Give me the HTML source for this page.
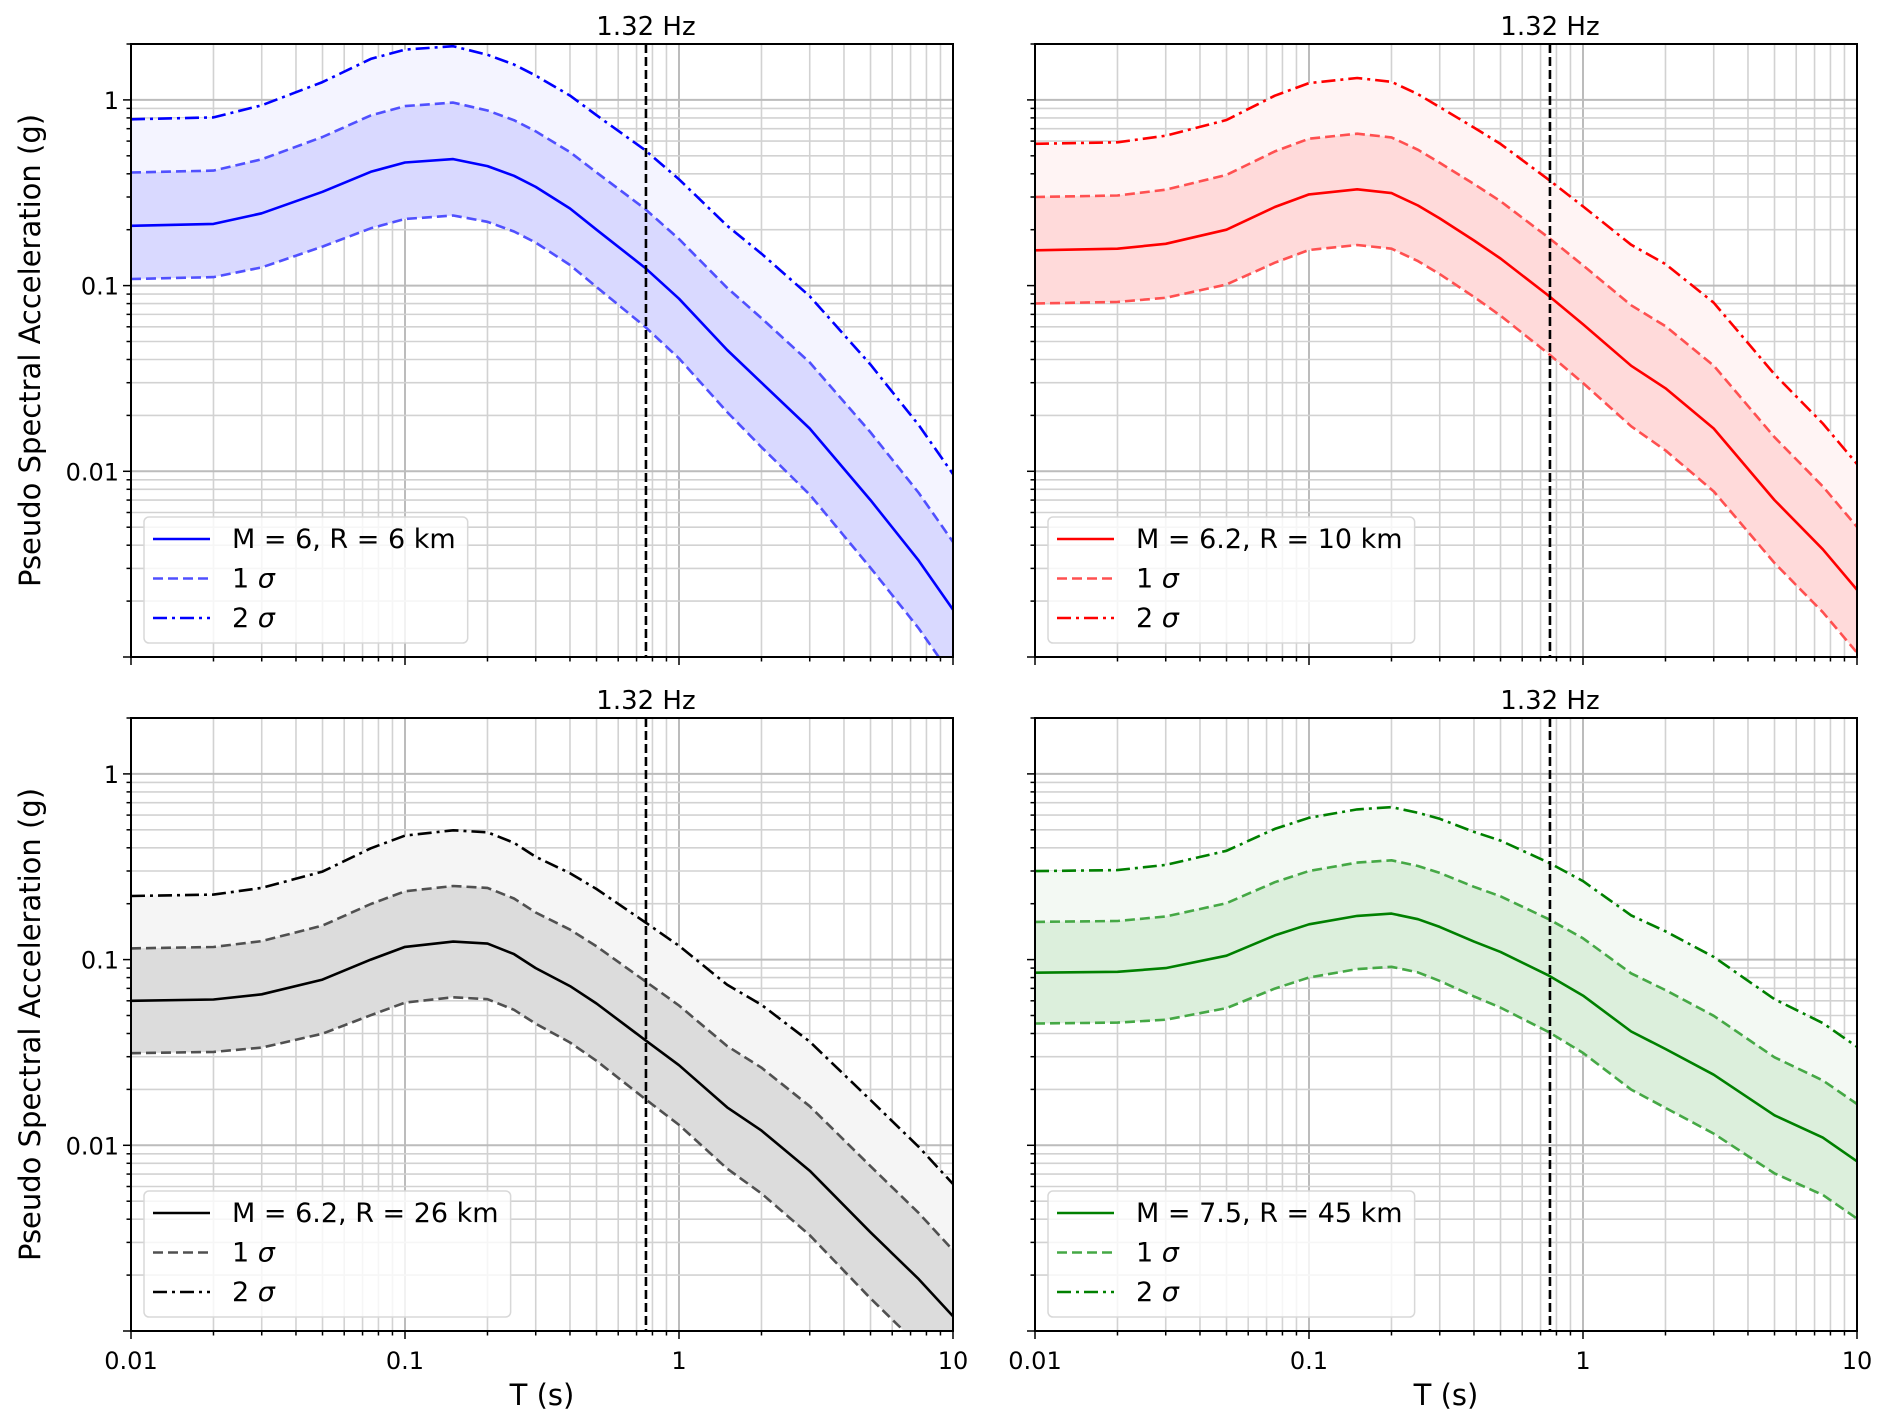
<!DOCTYPE html>
<html><head><meta charset="utf-8">
<style>
html,body{margin:0;padding:0;background:#fff;}
svg{display:block;font-family:"DejaVu Sans","Liberation Sans",sans-serif;}
</style></head>
<body>
<svg id="fig" width="1892" height="1426" viewBox="0 0 1892 1426" xmlns="http://www.w3.org/2000/svg"></svg>
<script>
const periods = [0.01,0.02,0.03,0.05,0.075,0.1,0.15,0.2,0.25,0.3,0.4,0.5,0.75,1,1.5,2,3,5,7.5,10];
const medA = [0.21,0.215,0.245,0.32,0.41,0.46,0.48,0.44,0.39,0.34,0.26,0.2,0.125,0.085,0.045,0.03,0.017,0.007,0.0033,0.0018];
const sigA = [0.66,0.66,0.67,0.68,0.70,0.70,0.70,0.69,0.69,0.69,0.70,0.71,0.73,0.74,0.77,0.80,0.82,0.84,0.84,0.84];
const medB = [0.155,0.158,0.168,0.2,0.265,0.31,0.33,0.315,0.27,0.23,0.175,0.14,0.088,0.062,0.037,0.028,0.017,0.007,0.0038,0.0023];
const sigB = [0.66,0.66,0.67,0.68,0.69,0.69,0.69,0.69,0.69,0.69,0.70,0.71,0.72,0.73,0.75,0.77,0.78,0.78,0.78,0.78];
const medC = [0.06,0.061,0.065,0.078,0.1,0.117,0.125,0.122,0.107,0.09,0.072,0.058,0.037,0.027,0.016,0.012,0.0073,0.0034,0.0019,0.0012];
const sigC = [0.65,0.65,0.66,0.67,0.69,0.69,0.69,0.69,0.69,0.69,0.70,0.71,0.73,0.74,0.76,0.78,0.80,0.82,0.82,0.82];
const medD = [0.085,0.086,0.09,0.105,0.135,0.155,0.172,0.177,0.165,0.15,0.125,0.11,0.082,0.064,0.041,0.033,0.024,0.0145,0.011,0.0082];
const sigD = [0.63,0.63,0.64,0.65,0.66,0.66,0.66,0.66,0.66,0.67,0.68,0.69,0.70,0.71,0.72,0.73,0.73,0.72,0.71,0.71];
const labels = ["M = 6, R = 6 km","M = 6.2, R = 10 km","M = 6.2, R = 26 km","M = 7.5, R = 45 km"];
const xTickVals = [0.01,0.1,1,10];
const xTickLabels = ["0.01","0.1","1","10"];
const yTickVals = [1,0.1,0.01];
const yTickLabels = ["1","0.1","0.01"];
const vlinePeriod = 1/1.32;

const NS="http://www.w3.org/2000/svg";
const svg=document.getElementById('fig');
function mk(tag,attrs,parent){const e=document.createElementNS(NS,tag);for(const k in attrs)e.setAttribute(k,attrs[k]);(parent||svg).appendChild(e);return e;}

const panels=[
 {x0:131,y0:44,med:medA,sig:sigA,c:"#0000ff",c1:"#5050ff",f1:"#d9d9ff",f2:"#f4f4ff",lab:labels[0],left:true,bottom:false,n:"top-left"},
 {x0:1035,y0:44,med:medB,sig:sigB,c:"#ff0000",c1:"#ff5050",f1:"#ffdada",f2:"#fff4f4",lab:labels[1],left:false,bottom:false,n:"top-right"},
 {x0:131,y0:718,med:medC,sig:sigC,c:"#000000",c1:"#505050",f1:"#dcdcdc",f2:"#f5f5f5",lab:labels[2],left:true,bottom:true,n:"bottom-left"},
 {x0:1035,y0:718,med:medD,sig:sigD,c:"#008000",c1:"#45a845",f1:"#dcefdc",f2:"#f3f9f3",lab:labels[3],left:false,bottom:true,n:"bottom-right"}
];
const W=822,H=613,xmin=0.01,xmax=10,ymin=0.001,ymax=2;

panels.forEach((p,pi)=>{
  const sx=v=>p.x0+(Math.log10(v)-Math.log10(xmin))/(Math.log10(xmax)-Math.log10(xmin))*W;
  const sy=v=>p.y0+(Math.log10(ymax)-Math.log10(v))/(Math.log10(ymax)-Math.log10(ymin))*H;
  const g=mk('g',{});
  
  
  const cid='clip'+pi;
  const cp=mk('clipPath',{id:cid},g);mk('rect',{x:p.x0,y:p.y0,width:W,height:H},cp);
  const grid=mk('g',{},g);
  
  
  for(let d=-2;d<1;d++)for(let m=1;m<10;m++){const v=m*Math.pow(10,d);const X=sx(v);
    mk('line',{x1:X,x2:X,y1:p.y0,y2:p.y0+H,stroke:m==1?"#bcbcbc":"#d2d2d2","stroke-width":m==1?2:1.6},grid);}
  for(let d=-3;d<1;d++)for(let m=1;m<10;m++){const v=m*Math.pow(10,d);if(v>ymax)continue;const Y=sy(v);
    mk('line',{x1:p.x0,x2:p.x0+W,y1:Y,y2:Y,stroke:m==1?"#bcbcbc":"#d2d2d2","stroke-width":m==1?2:1.6},grid);}
  const up1=p.med.map((v,i)=>v*Math.exp(p.sig[i]));
  const lo1=p.med.map((v,i)=>v/Math.exp(p.sig[i]));
  const up2=p.med.map((v,i)=>v*Math.exp(2*p.sig[i]));
  const pts=a=>a.map((v,i)=>sx(periods[i]).toFixed(1)+","+sy(v).toFixed(1));
  const band=(a,b)=>"M"+pts(a).join("L")+"L"+pts(b).reverse().join("L")+"Z";
  const cg=mk('g',{'clip-path':`url(#${cid})`},g);
  const fb2=mk('path',{d:band(up1,up2),fill:p.f2},cg);
  
  
  const fb1=mk('path',{d:band(lo1,up1),fill:p.f1},cg);
  
  
  const line=(a,col,dash,nm)=>{const e=mk('polyline',{points:pts(a).join(" "),fill:"none",stroke:col,"stroke-width":2.6,"stroke-dasharray":dash,"stroke-linejoin":"round"},cg);
    
    };
  line(up2,p.c,"14,5,3,5","line-plus-2-sigma");
  line(up1,p.c1,"10,5","line-plus-1-sigma");
  line(lo1,p.c1,"10,5","line-minus-1-sigma");
  line(p.med,p.c,"none","line-median");
  const VX=sx(vlinePeriod);
  const vl=mk('line',{x1:VX,x2:VX,y1:p.y0,y2:p.y0+H,stroke:"#000","stroke-width":2.6,"stroke-dasharray":"9,4"},g);
  
  
  const ht=mk('text',{x:VX,y:p.y0-9,"font-size":26,"text-anchor":"middle",fill:"#000"},g);ht.textContent="1.32 Hz";
  
  
  const fr=mk('rect',{x:p.x0,y:p.y0,width:W,height:H,fill:"none",stroke:"#000","stroke-width":2},g);
  
  
  for(let d=-2;d<1;d++)for(let m=1;m<10;m++){const v=m*Math.pow(10,d);const X=sx(v);const L=m==1?8:4.5;
    mk('line',{x1:X,x2:X,y1:p.y0+H,y2:p.y0+H+L,stroke:"#000","stroke-width":1.5},g);}
  mk('line',{x1:sx(10),x2:sx(10),y1:p.y0+H,y2:p.y0+H+8,stroke:"#000","stroke-width":1.5},g);
  for(let d=-3;d<1;d++)for(let m=1;m<10;m++){const v=m*Math.pow(10,d);if(v>ymax)continue;const Y=sy(v);const L=m==1?8:4.5;
    mk('line',{x1:p.x0,x2:p.x0-L,y1:Y,y2:Y,stroke:"#000","stroke-width":1.5},g);}
  if(p.bottom){xTickVals.forEach((v,i)=>{const t=mk('text',{x:sx(v),y:p.y0+H+38,"font-size":24,"text-anchor":"middle"},g);t.textContent=xTickLabels[i];
      
      });
    const xl=mk('text',{x:p.x0+W/2,y:1405,"font-size":29,"text-anchor":"middle"},g);xl.textContent="T (s)";
    
    }
  if(p.left){yTickVals.forEach((v,i)=>{const t=mk('text',{x:p.x0-12,y:sy(v)+9,"font-size":24,"text-anchor":"end"},g);t.textContent=yTickLabels[i];
      
      });
    const cy=p.y0+H/2;
    const yl=mk('text',{x:40,y:cy,"font-size":29,"text-anchor":"middle",transform:`rotate(-90 40 ${cy})`},g);yl.textContent="Pseudo Spectral Acceleration (g)";
    
    }
  const lg=mk('g',{},g);
  
  
  const lx=p.x0+13,ly=p.y0+H-140;
  const box=mk('rect',{x:lx,y:ly,width:322,height:126,rx:5,fill:"#fff","fill-opacity":0.8,stroke:"#d8d8d8","stroke-width":1.5},lg);
  const ent=[[p.c,"none",p.lab],[p.c1,"10,5","1"],[p.c,"14,5,3,5","2"]];
  let maxw=0;
  ent.forEach((e,i)=>{const yy=ly+22+i*39.5;
    mk('line',{x1:lx+9,x2:lx+66,y1:yy,y2:yy,stroke:e[0],"stroke-width":2.6,"stroke-dasharray":e[1]},lg);
    const t=mk('text',{x:lx+88,y:yy+9,"font-size":27},lg);
    if(i==0)t.textContent=e[2];else{t.textContent=e[2]+" ";const s=mk('tspan',{"font-style":"italic"},t);s.textContent="σ";}
    
    
    try{maxw=Math.max(maxw,t.getComputedTextLength());}catch(err){}});
  if(maxw>0)box.setAttribute('width',88+maxw+12);
});
</script>
</body></html>
